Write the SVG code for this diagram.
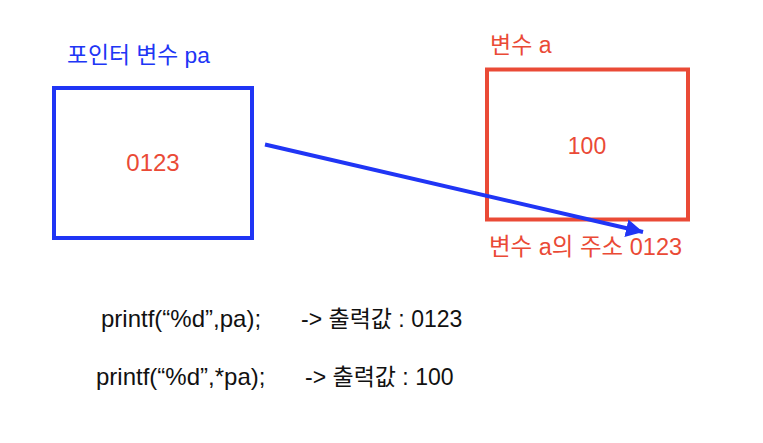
<svg xmlns="http://www.w3.org/2000/svg" width="763" height="443" viewBox="0 0 763 443">
<style>
text{font-family:"Liberation Sans","Noto Sans CJK KR",sans-serif;}
.blue{fill:#2035f5;}
.red{fill:#ea4a36;}
.blk{fill:#111;}
</style>
<defs>
<marker id="ah" markerUnits="userSpaceOnUse" markerWidth="20" markerHeight="20" refX="17" refY="9" orient="auto">
<path d="M0,0 L17,9 L0,18 Z" fill="#2035f5"/>
</marker>
</defs>
<rect width="763" height="443" fill="#fff"/>
<g id="pa">
<rect x="54" y="88" width="198" height="150" fill="none" stroke="#2035f5" stroke-width="4"/>
<text x="67" y="63" class="blue" font-size="22.8">포인터 변수 pa</text>
<text x="153" y="171" class="red" font-size="24" text-anchor="middle">0123</text>
</g>
<g id="a">
<rect x="487" y="69.5" width="201" height="150" fill="none" stroke="#ea4a36" stroke-width="4"/>
<text x="490" y="53" class="red" font-size="23">변수 a</text>
<text x="587" y="153.5" class="red" font-size="23" text-anchor="middle">100</text>
<text x="489" y="255" class="red" font-size="23.5">변수 a의 주소 0123</text>
</g>
<g id="connectors">
<line x1="265" y1="144.5" x2="643" y2="232" stroke="#2035f5" stroke-width="4" marker-end="url(#ah)"/>
</g>
<g id="code">
<text x="101" y="327" class="blk" font-size="24">printf(“%d”,pa);</text>
<text x="301" y="327" class="blk" font-size="23">-&gt; 출력값 : 0123</text>
<text x="96" y="385" class="blk" font-size="24">printf(“%d”,*pa);</text>
<text x="305" y="385" class="blk" font-size="23">-&gt; 출력값 : 100</text>
</g>
</svg>
